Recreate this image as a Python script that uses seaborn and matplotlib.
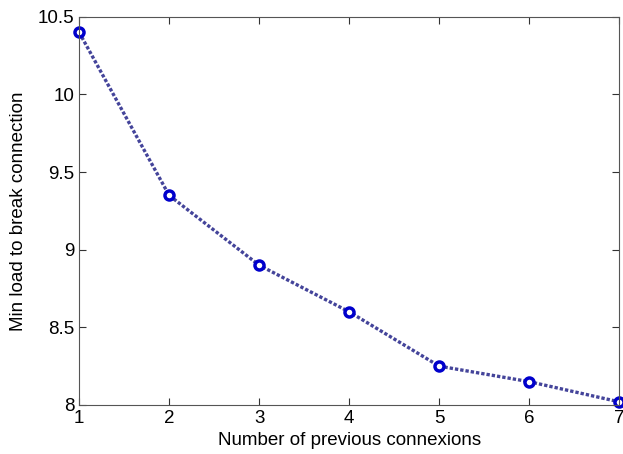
import numpy as np
import pandas as pd
import seaborn as sns
import matplotlib
matplotlib.use("Agg")
import matplotlib.pyplot as plt

# Data
connexions = [1, 2, 3, 4, 5, 6, 7]
min_load = [10.4, 9.35, 8.9, 8.6, 8.25, 8.15, 8.02]

df = pd.DataFrame({"connexions": connexions, "min_load": min_load})

sns.set_style("ticks")
plt.rcParams['font.family'] = ['Liberation Sans', 'DejaVu Sans']
plt.rcParams['text.color'] = 'black'
plt.rcParams['axes.labelcolor'] = 'black'
plt.rcParams['xtick.color'] = 'black'
plt.rcParams['ytick.color'] = 'black'

fig = plt.figure(figsize=(6.23, 4.54), dpi=100)
ax = fig.add_axes([0.127, 0.108, 0.867, 0.855])

sns.lineplot(data=df, x="connexions", y="min_load", ax=ax,
             color="#44449a", linestyle=(0, (1, 0.6)), linewidth=2.4,
             marker="o", markersize=6.5, markerfacecolor="white",
             markeredgecolor="#0000cc", markeredgewidth=2.5, clip_on=False)

ax.set_xlim(1, 7)
ax.set_ylim(8, 10.5)
ax.set_xticks(connexions)
ax.set_yticks([8, 8.5, 9, 9.5, 10, 10.5])
ax.set_yticklabels(["8", "8.5", "9", "9.5", "10", "10.5"])
ax.tick_params(direction="in", top=True, right=True, labelsize=13.5, length=5,
               color="#333333", labelcolor="black")
for s in ax.spines.values():
    s.set_visible(True)
    s.set_color("#555555")
    s.set_linewidth(0.8)
ax.set_xlabel("Number of previous connexions", fontsize=13.5, labelpad=4)
ax.set_ylabel("Min load to break connection", fontsize=13.5, labelpad=8)

fig.savefig("out.png", dpi=100)
